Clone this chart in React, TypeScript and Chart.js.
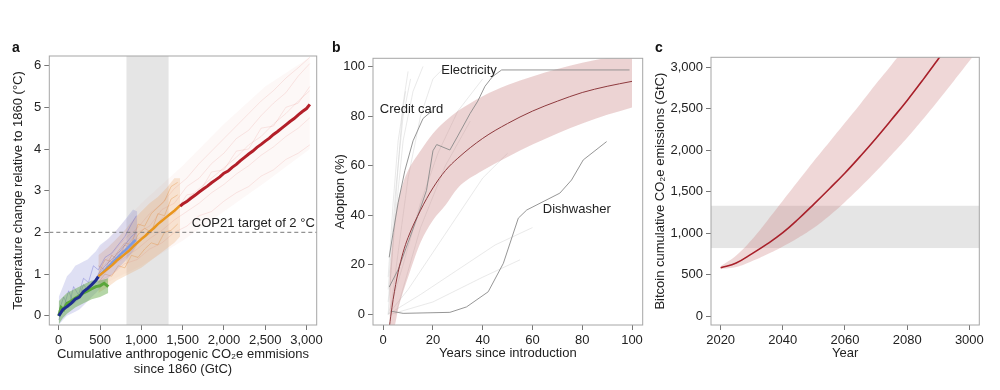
import React, { useEffect, useRef } from 'react';
import { Chart, registerables } from 'chart.js';

Chart.register(...registerables);

const FONT = "'Liberation Sans', Arial, Helvetica, sans-serif";
const TEXT = '#222222';
const FRAME = '#a6a6a6';
const TICK = '#777777';

// ---------------- Panel a : temperature vs cumulative emissions ----------------
const aXTicks = [0, 500, 1000, 1500, 2000, 2500, 3000];
const aXLabels = ['0', '500', '1,000', '1,500', '2,000', '2,500', '3,000'];
const aYTicks = [0, 1, 2, 3, 4, 5, 6];
const aYLabels = ['0', '1', '2', '3', '4', '5', '6'];
const aBandRange = [820, 1330];
const copTarget = 2;
const copLabel = 'COP21 target of 2 °C';

const redCloudX = [480, 1000, 1500, 2000, 2500, 3040];
const redCloudLo = [0.7, 1.2, 1.8, 2.5, 3.2, 4.0];
const redCloudHi = [1.6, 2.7, 3.6, 4.6, 5.5, 6.2];

const orangeCloudX = [480, 600, 700, 800, 900, 1000, 1100, 1200, 1300, 1400, 1470];
const orangeCloudLo = [0.55, 0.7, 0.85, 0.95, 1.05, 1.15, 1.3, 1.45, 1.6, 1.75, 1.9];
const orangeCloudHi = [1.45, 1.65, 1.85, 2.05, 2.3, 2.5, 2.7, 2.85, 3.05, 3.3, 3.3];

const blueCloudX = [0, 50, 100, 150, 200, 250, 300, 350, 400, 450, 500, 600, 700, 800, 900, 950];
const blueCloudLo = [-0.22, -0.1, 0.0, 0.05, 0.1, 0.15, 0.25, 0.35, 0.45, 0.55, 0.65, 0.9, 1.1, 1.3, 1.55, 1.7];
const blueCloudHi = [0.45, 0.7, 0.95, 1.05, 1.2, 1.25, 1.3, 1.35, 1.45, 1.55, 1.7, 1.85, 2.05, 2.3, 2.55, 2.5];

const greenCloudX = [0, 50, 100, 200, 300, 400, 500, 600];
const greenCloudLo = [-0.2, -0.05, 0.05, 0.2, 0.3, 0.4, 0.45, 0.55];
const greenCloudHi = [0.35, 0.45, 0.55, 0.65, 0.75, 0.85, 0.85, 0.9];

const redTraceX = [500, 650, 800, 950, 1100, 1250, 1400, 1550, 1700, 1850, 2000, 2150, 2300, 2450, 2600, 2750, 2900, 3040];
const redTrace1 = [1.1, 1.45, 1.6, 2.0, 2.15, 2.55, 2.7, 3.1, 3.3, 3.65, 3.9, 4.25, 4.45, 4.8, 5.1, 5.35, 5.75, 6.05];
const redTrace2 = [0.85, 1.0, 1.25, 1.35, 1.6, 1.75, 2.0, 2.15, 2.4, 2.5, 2.75, 2.95, 3.1, 3.35, 3.5, 3.75, 3.9, 4.1];
const redTrace3 = [1.0, 1.3, 1.55, 1.75, 2.05, 2.3, 2.5, 2.8, 3.05, 3.3, 3.55, 3.8, 4.1, 4.3, 4.6, 4.85, 5.15, 5.4];
const redTrace4 = [0.9, 1.2, 1.4, 1.6, 1.85, 2.05, 2.3, 2.5, 2.7, 2.95, 3.15, 3.4, 3.6, 3.85, 4.05, 4.3, 4.5, 4.75];
const redTrace5 = [1.2, 1.5, 1.85, 2.1, 2.45, 2.7, 3.05, 3.3, 3.65, 3.95, 4.25, 4.55, 4.85, 5.15, 5.4, 5.7, 5.95, 6.2];
const redTrace6 = [0.95, 1.25, 1.5, 1.85, 1.95, 2.35, 2.45, 2.9, 2.95, 3.45, 3.5, 3.95, 4.0, 4.5, 4.55, 5.0, 5.1, 5.5];

const orangeTraceX = [480, 560, 640, 720, 800, 880, 960, 1040, 1120, 1200, 1280, 1360, 1440];
const orangeTrace1 = [1.2, 1.1, 1.45, 1.35, 1.7, 1.6, 1.95, 2.1, 2.0, 2.45, 2.4, 2.8, 2.9];
const orangeTrace2 = [0.8, 1.0, 0.95, 1.2, 1.15, 1.45, 1.4, 1.6, 1.75, 1.7, 2.0, 2.05, 2.2];
const orangeTrace3 = [1.0, 1.35, 1.3, 1.55, 1.75, 1.7, 2.2, 2.15, 2.45, 2.6, 2.75, 3.1, 3.2];

const blueTraceX = [0, 60, 120, 180, 240, 300, 360, 420, 480, 560, 640, 720, 800, 880, 940];
const blueTrace1 = [0.1, 0.45, 0.2, 0.7, 0.5, 0.9, 0.8, 1.2, 1.1, 1.4, 1.5, 1.7, 1.9, 2.2, 2.4];
const blueTrace2 = [-0.1, 0.2, 0.6, 0.3, 0.4, 0.75, 0.6, 0.8, 1.0, 1.2, 1.35, 1.5, 1.7, 1.9, 2.0];

const greenMainX = [0, 30, 60, 100, 150, 200, 250, 300, 350, 400, 450, 500, 550, 600];
const greenMainY = [0.0, 0.2, 0.15, 0.3, 0.35, 0.42, 0.48, 0.55, 0.6, 0.65, 0.7, 0.72, 0.78, 0.7];

const darkBlueX = [0, 50, 100, 150, 200, 250, 300, 350, 400, 450, 480];
const darkBlueY = [0.0, 0.15, 0.22, 0.3, 0.4, 0.45, 0.58, 0.66, 0.75, 0.85, 0.94];

const lightBlueX = [480, 550, 600, 650, 700, 750, 800, 850, 900, 930];
const lightBlueY = [0.94, 1.08, 1.18, 1.28, 1.38, 1.48, 1.56, 1.66, 1.76, 1.82];

const orangeMainX = [480, 550, 600, 650, 700, 750, 800, 850, 900, 950, 1000, 1050, 1100, 1150, 1200, 1250, 1300, 1350, 1400, 1470];
const orangeMainY = [0.95, 1.06, 1.14, 1.22, 1.32, 1.4, 1.48, 1.56, 1.66, 1.75, 1.84, 1.92, 2.02, 2.1, 2.2, 2.28, 2.36, 2.44, 2.52, 2.65];

const redMainX = [1470, 1500, 1550, 1600, 1650, 1700, 1750, 1800, 1850, 1900, 1950, 2000, 2050, 2100, 2150, 2200, 2250, 2300, 2350, 2400, 2450, 2500, 2550, 2600, 2650, 2700, 2750, 2800, 2850, 2900, 2950, 3000, 3040];
const redMainY = [2.63, 2.68, 2.74, 2.82, 2.89, 2.97, 3.04, 3.11, 3.19, 3.26, 3.33, 3.42, 3.47, 3.56, 3.63, 3.72, 3.8, 3.88, 3.95, 4.04, 4.11, 4.19, 4.26, 4.35, 4.42, 4.5, 4.58, 4.66, 4.73, 4.82, 4.9, 4.97, 5.07];

// ---------------- Panel b : adoption ----------------
const bTicks = [0, 20, 40, 60, 80, 100];
const bLabels = ['0', '20', '40', '60', '80', '100'];

const bandX = [2.5, 3, 4, 5, 6, 8, 10, 15, 20, 25, 30, 40, 50, 60, 70, 80, 90, 100];
const bandMid = [-5, -1, 6, 12, 17, 25, 31, 42, 51, 58, 63, 71, 77, 82, 86, 89.5, 92, 94];
const bandHi = [15, 22, 32, 40, 46, 53, 58, 66, 73, 78, 82, 88, 92.5, 96, 99, 101.5, 103.5, 105];
const bandLo = [-20, -15, -8, -3, 2, 9, 15, 29, 38, 44, 51, 58, 63.5, 68.5, 73, 77, 80.5, 83.5];

const creditX = [2.4, 4, 6, 8.7, 12, 16, 19.5];
const creditY = [23, 33, 45, 58, 70, 79, 82];

const electricityX = [2.4, 6, 10, 14, 17.4, 20, 21.5, 26.8, 30, 34.9, 38, 40.9, 44, 47.6, 99];
const electricityY = [11, 18, 29, 40, 50, 66, 68.5, 66.3, 72, 81, 86, 92, 96, 98.6, 98.6];

const dishwasherX = [3, 8, 26.8, 33.5, 42.2, 48.3, 54.3, 57.7, 71, 75.7, 80.4, 89.8];
const dishwasherY = [1.3, 0.4, 0.8, 3, 9.1, 20.6, 38.8, 42.1, 48.9, 54.2, 62.3, 69.7];

const faint1X = [2, 4, 6, 8, 10];
const faint1Y = [0, 30, 60, 85, 98];
const faint2X = [2, 5, 8, 12, 16];
const faint2Y = [5, 40, 70, 90, 100];
const faint3X = [3, 6, 10, 15, 20, 25];
const faint3Y = [2, 25, 55, 80, 95, 100];
const faint4X = [2, 8, 15, 22, 30, 40];
const faint4Y = [0, 20, 45, 65, 82, 95];
const faint5X = [2, 10, 20, 30, 40, 50];
const faint5Y = [0, 10, 25, 40, 55, 65];
const faint6X = [2, 15, 30, 45, 60];
const faint6Y = [0, 8, 18, 28, 35];
const faint7X = [3, 20, 40, 55];
const faint7Y = [0, 5, 15, 22];
const faint8X = [2, 5, 8, 11];
const faint8Y = [10, 50, 80, 95];
const faint9X = [2, 4, 6, 9];
const faint9Y = [15, 45, 70, 90];
const faint10X = [5, 15, 25, 35];
const faint10Y = [0, 35, 60, 78];

// ---------------- Panel c : bitcoin emissions ----------------
const cXTicks = [2020, 2040, 2060, 2080, 2100];
const cXLabels = ['2020', '2040', '2060', '2080', '3000'];
const cYTicks = [0, 500, 1000, 1500, 2000, 2500, 3000];
const cYLabels = ['0', '500', '1,000', '1,500', '2,000', '2,500', '3,000'];
const cBandRange = [820, 1330];

const years = [2020, 2025, 2030, 2035, 2040, 2045, 2050, 2055, 2060, 2065, 2070, 2075, 2080, 2085, 2090, 2095, 2100, 2105];
const btcMid = [582, 640, 750, 870, 1005, 1170, 1350, 1535, 1725, 1930, 2145, 2370, 2600, 2845, 3100, 3360, 3620, 3880];
const btcHi = [600, 730, 920, 1150, 1390, 1630, 1870, 2100, 2330, 2560, 2800, 3030, 3270, 3510, 3750, 3990, 4230, 4470];
const btcLo = [565, 590, 660, 745, 840, 945, 1065, 1210, 1375, 1555, 1745, 1945, 2150, 2370, 2600, 2835, 3075, 3320];

// ---------------- helpers ----------------
function pts(xs: number[], ys: number[]) {
  return xs.map((x, i) => ({ x, y: ys[i] }));
}

function line(xs: number[], ys: number[], color: string, width: number, extra: any = {}) {
  return { data: pts(xs, ys), borderColor: color, borderWidth: width, pointRadius: 0, fill: false, tension: 0, ...extra };
}

function addRibbon(ds: any[], xs: number[], lo: number[], hi: number[], color: string, extra: any = {}) {
  const i = ds.length;
  ds.push({ data: pts(xs, lo), borderWidth: 0, borderColor: 'rgba(0,0,0,0)', pointRadius: 0, fill: false, ...extra });
  ds.push({ data: pts(xs, hi), borderWidth: 0, borderColor: 'rgba(0,0,0,0)', pointRadius: 0, fill: i, backgroundColor: color, ...extra });
}

function finalize(ds: any[]) {
  ds.forEach((d, i) => (d.order = ds.length - i));
  return ds;
}

function axis(o: any) {
  return {
    type: 'linear',
    min: o.min,
    max: o.max,
    afterBuildTicks: (s: any) => {
      s.ticks = o.ticks.map((v: number) => ({ value: v }));
    },
    afterFit: (s: any) => {
      if (o.horizontal) s.height = o.size;
      else s.width = o.size;
    },
    ticks: {
      autoSkip: false,
      maxRotation: 0,
      minRotation: 0,
      padding: 3,
      color: TEXT,
      font: { family: FONT, size: 13 },
      callback: (v: number) => {
        const k = o.ticks.indexOf(v);
        return k >= 0 ? o.labels[k] : '';
      },
    },
    grid: { display: true, drawOnChartArea: false, drawTicks: true, tickLength: 5, color: TICK, lineWidth: 1 },
    border: { display: false },
    title: {
      display: true,
      text: o.title,
      color: TEXT,
      font: { family: FONT, size: 13, lineHeight: o.lineHeight ?? 1.2 },
      padding: o.titlePad,
    },
  };
}

function panelPlugin(letter: string, letterX: number, under?: (c: any) => void, over?: (c: any) => void) {
  return {
    id: 'panel_' + letter,
    beforeDatasetsDraw(chart: any) {
      if (under) under(chart);
    },
    afterDatasetsDraw(chart: any) {
      if (over) over(chart);
    },
    afterDraw(chart: any) {
      const { ctx, chartArea: a } = chart;
      ctx.save();
      ctx.strokeStyle = FRAME;
      ctx.lineWidth = 1;
      ctx.strokeRect(a.left, a.top, a.right - a.left, a.bottom - a.top);
      ctx.fillStyle = '#111';
      ctx.font = `bold 14px ${FONT}`;
      ctx.textAlign = 'left';
      ctx.textBaseline = 'alphabetic';
      ctx.fillText(letter, letterX, 52);
      ctx.restore();
    },
  };
}

function baseOptions(pad: any, scales: any) {
  return {
    responsive: false,
    animation: false,
    devicePixelRatio: 1,
    layout: { padding: pad },
    plugins: { legend: { display: false }, tooltip: { enabled: false } },
    scales,
  };
}

// ---------------- chart builders ----------------
function buildA(canvas: HTMLCanvasElement) {
  const ds: any[] = [];
  const redFaint = 'rgba(220,110,100,0.2)';
  addRibbon(ds, redCloudX, redCloudLo, redCloudHi, 'rgba(225,130,115,0.06)');
  ds.push(line(redTraceX, redTrace1, redFaint, 0.8));
  ds.push(line(redTraceX, redTrace2, redFaint, 0.8));
  ds.push(line(redTraceX, redTrace3, redFaint, 0.8));
  ds.push(line(redTraceX, redTrace4, redFaint, 0.8));
  ds.push(line(redTraceX, redTrace5, redFaint, 0.8));
  ds.push(line(redTraceX, redTrace6, redFaint, 0.8));
  addRibbon(ds, orangeCloudX, orangeCloudLo, orangeCloudHi, 'rgba(235,160,90,0.25)');
  ds.push(line(orangeTraceX, orangeTrace1, 'rgba(225,140,60,0.45)', 0.8));
  ds.push(line(orangeTraceX, orangeTrace2, 'rgba(225,140,60,0.45)', 0.8));
  ds.push(line(orangeTraceX, orangeTrace3, 'rgba(225,140,60,0.45)', 0.8));
  addRibbon(ds, blueCloudX, blueCloudLo, blueCloudHi, 'rgba(110,115,205,0.22)');
  ds.push(line(blueTraceX, blueTrace1, 'rgba(80,80,200,0.4)', 0.8));
  ds.push(line(blueTraceX, blueTrace2, 'rgba(80,80,200,0.4)', 0.8));
  addRibbon(ds, greenCloudX, greenCloudLo, greenCloudHi, 'rgba(90,165,60,0.45)');
  ds.push(line(greenMainX, greenMainY, '#5aa63a', 3));
  ds.push(line(lightBlueX, lightBlueY, '#7d9ae0', 2.5));
  ds.push(line(darkBlueX, darkBlueY, '#1f2c8f', 3));
  ds.push(line(orangeMainX, orangeMainY, '#e8961e', 2.5));
  ds.push(line(redMainX, redMainY, '#b31f29', 3));

  const under = (c: any) => {
    const { ctx, chartArea: a, scales } = c;
    const x0 = scales.x.getPixelForValue(aBandRange[0]);
    const x1 = scales.x.getPixelForValue(aBandRange[1]);
    ctx.save();
    ctx.fillStyle = '#e5e5e5';
    ctx.fillRect(x0, a.top, x1 - x0, a.bottom - a.top);
    ctx.restore();
  };
  const over = (c: any) => {
    const { ctx, chartArea: a, scales } = c;
    const y = scales.y.getPixelForValue(copTarget);
    ctx.save();
    ctx.strokeStyle = 'rgba(120,120,120,0.8)';
    ctx.lineWidth = 1.2;
    ctx.setLineDash([4, 3]);
    ctx.beginPath();
    ctx.moveTo(a.left, y);
    ctx.lineTo(a.right, y);
    ctx.stroke();
    ctx.setLineDash([]);
    ctx.fillStyle = TEXT;
    ctx.font = `13px ${FONT}`;
    ctx.textAlign = 'right';
    ctx.textBaseline = 'middle';
    ctx.fillText(copLabel, scales.x.getPixelForValue(3100), scales.y.getPixelForValue(2.22));
    ctx.restore();
  };

  return new Chart(canvas, {
    type: 'line',
    data: { datasets: finalize(ds) },
    options: baseOptions({ left: 0, top: 56, right: 13.3, bottom: 0 }, {
      x: axis({ min: -114, max: 3123, ticks: aXTicks, labels: aXLabels, horizontal: true, size: 65,
        title: ['Cumulative anthropogenic CO₂e emmisions', 'since 1860 (GtC)'], lineHeight: 1.15, titlePad: { top: 0, bottom: 13.5 } }),
      y: axis({ min: -0.22, max: 6.23, ticks: aYTicks, labels: aYLabels, horizontal: false, size: 49.3,
        title: 'Temperature change relative to 1860 (°C)', titlePad: { top: 10.5, bottom: 0 } }),
    }) as any,
    plugins: [panelPlugin('a', 12, under, over)],
  } as any);
}

function buildB(canvas: HTMLCanvasElement) {
  const ds: any[] = [];
  const faint = 'rgba(200,200,200,0.45)';
  ds.push(line(faint1X, faint1Y, faint, 0.9));
  ds.push(line(faint2X, faint2Y, faint, 0.9));
  ds.push(line(faint3X, faint3Y, faint, 0.9));
  ds.push(line(faint4X, faint4Y, faint, 0.9));
  ds.push(line(faint5X, faint5Y, faint, 0.9));
  ds.push(line(faint6X, faint6Y, faint, 0.9));
  ds.push(line(faint7X, faint7Y, faint, 0.9));
  ds.push(line(faint8X, faint8Y, faint, 0.9));
  ds.push(line(faint9X, faint9Y, faint, 0.9));
  ds.push(line(faint10X, faint10Y, faint, 0.9));
  addRibbon(ds, bandX, bandLo, bandHi, 'rgba(205,140,140,0.38)', { cubicInterpolationMode: 'monotone' });
  ds.push(line(creditX, creditY, '#8a8a8a', 0.9));
  ds.push(line(electricityX, electricityY, '#8a8a8a', 0.9));
  ds.push(line(dishwasherX, dishwasherY, '#8a8a8a', 0.9));
  ds.push(line(bandX, bandMid, '#8e3a3e', 1, { cubicInterpolationMode: 'monotone' }));

  const over = (c: any) => {
    const { ctx, scales } = c;
    ctx.save();
    ctx.fillStyle = TEXT;
    ctx.font = `13px ${FONT}`;
    ctx.textAlign = 'center';
    ctx.textBaseline = 'middle';
    ctx.fillText('Electricity', scales.x.getPixelForValue(34.5), scales.y.getPixelForValue(98.3));
    ctx.fillText('Credit card', scales.x.getPixelForValue(11.4), scales.y.getPixelForValue(82.5));
    ctx.fillText('Dishwasher', scales.x.getPixelForValue(77.8), scales.y.getPixelForValue(42.5));
    ctx.restore();
  };

  return new Chart(canvas, {
    type: 'line',
    data: { datasets: finalize(ds) },
    options: baseOptions({ left: 0, top: 58.3, right: 7.3, bottom: 0 }, {
      x: axis({ min: -4.1, max: 104.3, ticks: bTicks, labels: bLabels, horizontal: true, size: 65,
        title: 'Years since introduction', titlePad: { top: 0, bottom: 29.2 } }),
      y: axis({ min: -4.3, max: 103.3, ticks: bTicks, labels: bLabels, horizontal: false, size: 43,
        title: 'Adoption (%)', titlePad: { top: 2.2, bottom: 0 } }),
    }) as any,
    plugins: [panelPlugin('b', 2, undefined, over)],
  } as any);
}

function buildC(canvas: HTMLCanvasElement) {
  const ds: any[] = [];
  addRibbon(ds, years, btcLo, btcHi, 'rgba(205,130,130,0.32)', { tension: 0.4 });
  ds.push(line(years, btcMid, '#a8202a', 1.6, { tension: 0.4 }));

  const under = (c: any) => {
    const { ctx, chartArea: a, scales } = c;
    const y0 = scales.y.getPixelForValue(cBandRange[1]);
    const y1 = scales.y.getPixelForValue(cBandRange[0]);
    ctx.save();
    ctx.fillStyle = '#e5e5e5';
    ctx.fillRect(a.left, y0, a.right - a.left, y1 - y0);
    ctx.restore();
  };

  return new Chart(canvas, {
    type: 'line',
    data: { datasets: finalize(ds) },
    options: baseOptions({ left: 0, top: 57.3, right: 20.7, bottom: 0 }, {
      x: axis({ min: 2016.9, max: 2103.2, ticks: cXTicks, labels: cXLabels, horizontal: true, size: 65,
        title: 'Year', titlePad: { top: 0, bottom: 29.2 } }),
      y: axis({ min: -108, max: 3120, ticks: cYTicks, labels: cYLabels, horizontal: false, size: 61,
        title: 'Bitcoin cumulative CO₂e emissions (GtC)', titlePad: { top: 2.2, bottom: 0 } }),
    }) as any,
    plugins: [panelPlugin('c', 5, under)],
  } as any);
}

function Panel({ build, left, width }: { build: (c: HTMLCanvasElement) => Chart; left: number; width: number }) {
  const ref = useRef<HTMLCanvasElement>(null);
  useEffect(() => {
    const chart = build(ref.current as HTMLCanvasElement);
    return () => chart.destroy();
  }, []);
  return (
    <canvas
      ref={ref}
      width={width}
      height={390}
      style={{ position: 'absolute', left, top: 0, width, height: 390 }}
    />
  );
}

export default function App() {
  return (
    <div style={{ position: 'fixed', left: 0, top: 0, width: 1000, height: 390, background: '#fff', overflow: 'hidden' }}>
      <Panel build={buildA} left={0} width={330} />
      <Panel build={buildB} left={330} width={320} />
      <Panel build={buildC} left={650} width={350} />
    </div>
  );
}
